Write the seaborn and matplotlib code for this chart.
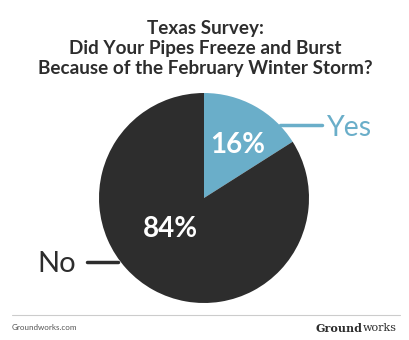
import matplotlib
matplotlib.use("Agg")
import matplotlib.pyplot as plt
import seaborn as sns

categories = ["Yes", "No"]
values = [16, 84]
pct_labels = ["16%", "84%"]
colors = ["#6aaec9", "#2d2d2d"]
title = "Texas Survey:\nDid Your Pipes Freeze and Burst\nBecause of the February Winter Storm?"

sns.set_theme(style="white")
plt.rcParams['font.family'] = ['Lato', 'DejaVu Sans']

W, H = 410, 340
fig = plt.figure(figsize=(W / 100, H / 100), dpi=100)
fig.patch.set_facecolor("white")

cx, cy, r = 204, 198, 105
ax = fig.add_axes([(cx - r) / W, (H - cy - r) / H, 2 * r / W, 2 * r / H])
wedges, _ = ax.pie(values, colors=colors, startangle=90, counterclock=False,
                   radius=1.0, wedgeprops=dict(linewidth=0))
ax.set_xlim(-1, 1)
ax.set_ylim(-1, 1)
ax.set_aspect("equal")
ax.axis("off")

def d(px, py):
    return ((px - cx) / r, (cy - py) / r)

# percentage labels
ax.text(*d(238, 145), pct_labels[0], color="white", fontsize=20, fontweight="bold",
        ha="center", va="center")
ax.text(*d(170, 229), pct_labels[1], color="white", fontsize=20, fontweight="bold",
        ha="center", va="center")

def fx(px):
    return px / W
def fy(py):
    return 1 - py / H

# leader lines and category labels
fig.add_artist(plt.Line2D([fx(280), fx(322)], [fy(125), fy(125)], color=colors[0], lw=2.5))
fig.text(fx(327), fy(125), categories[0], color=colors[0], fontsize=20.5,
         ha="left", va="center_baseline")
fig.add_artist(plt.Line2D([fx(87), fx(118)], [fy(262), fy(262)], color="#2d2d2d", lw=2.5))
fig.text(fx(76), fy(262), categories[1], color="#2d2d2d", fontsize=21,
         ha="right", va="center_baseline")

# title
fig.text(0.5, fy(48.5), title, ha="center", va="center", fontsize=13.6, fontweight="bold",
         color="#2d2d2d", linespacing=1.2)

# footer
fig.add_artist(plt.Line2D([fx(12), fx(400)], [fy(315), fy(315)], color="#cccccc", lw=0.8))
fig.text(fx(12), fy(328), "Groundworks.com", ha="left", va="center", fontsize=5.8,
         color="#555555")
t2 = fig.text(fx(397), fy(328), "works", ha="right", va="center", fontsize=8,
              color="#2d2d2d", family="DejaVu Serif")
fig.canvas.draw()
bb = t2.get_window_extent()
fig.text(bb.x0 / W, fy(328), "Ground", ha="right", va="center", fontsize=8,
         fontweight="bold", color="#2d2d2d", family="DejaVu Serif")

fig.savefig("out.png", dpi=100, facecolor="white")
